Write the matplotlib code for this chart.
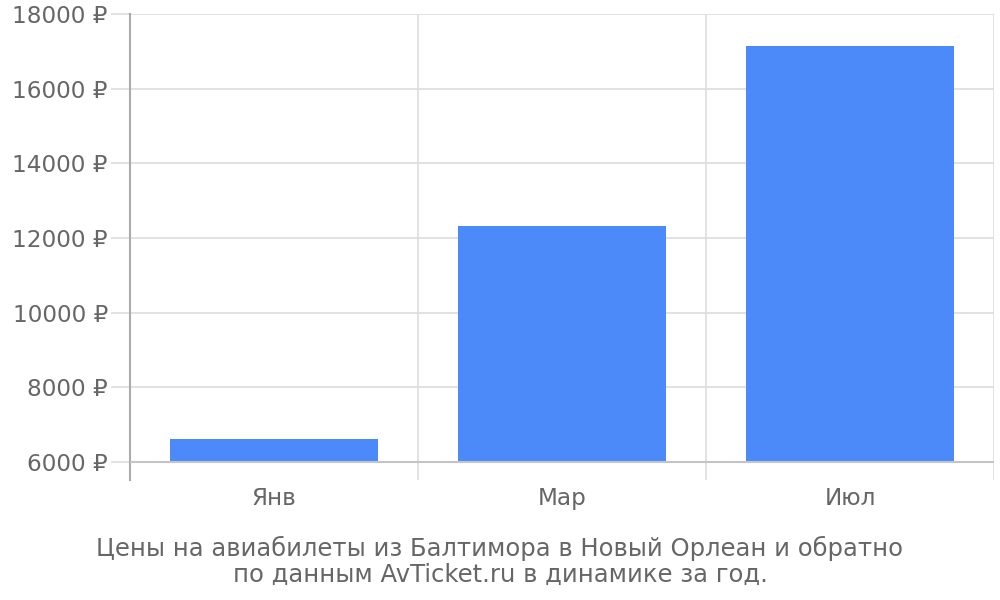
import matplotlib.pyplot as plt
import numpy as np

months = ["Янв", "Мар", "Июл"]
prices = [6620, 12310, 17150]
yticks = [6000, 8000, 10000, 12000, 14000, 16000, 18000]
caption = "Цены на авиабилеты из Балтимора в Новый Орлеан и обратно\nпо данным AvTicket.ru в динамике за год."

text_color = "#666666"
grid_color = "#dddddd"
base = 6000

fig = plt.figure(figsize=(10, 6), dpi=100)
ax = fig.add_axes([0.13, 0.2, 0.864, 0.777])

x = np.arange(len(months))
ax.bar(x, np.array(prices) - base, bottom=base, width=0.72, color="#4d8af9", zorder=3)

ax.set_xlim(-0.5, len(months) - 0.5)
ax.set_ylim(5520, 18000)
ax.set_yticks(yticks)
ax.set_yticklabels([f"{v} ₽" for v in yticks])
ax.set_xticks(x)
ax.set_xticklabels(months)

for b in np.arange(-0.5, len(months), 1.0)[1:]:
    ax.axvline(b, color=grid_color, lw=1.2, zorder=1)
ax.yaxis.grid(True, color=grid_color, lw=1.2, zorder=1)
ax.axhline(base, color="#c4c4c4", lw=1.5, zorder=4)

for s in ["top", "right", "bottom"]:
    ax.spines[s].set_visible(False)
ax.spines["left"].set_color("#aaaaaa")
ax.spines["left"].set_linewidth(1.5)

ax.tick_params(axis="y", length=14, color=grid_color, width=1.2, labelsize=16.7, labelcolor=text_color, pad=2)
ax.tick_params(axis="x", length=0, labelsize=16.7, labelcolor=text_color, pad=5)

fig.text(0.5, 0.065, caption, ha="center", va="center", fontsize=17.5, color=text_color, linespacing=1.1)

fig.savefig("out.png", dpi=100)
